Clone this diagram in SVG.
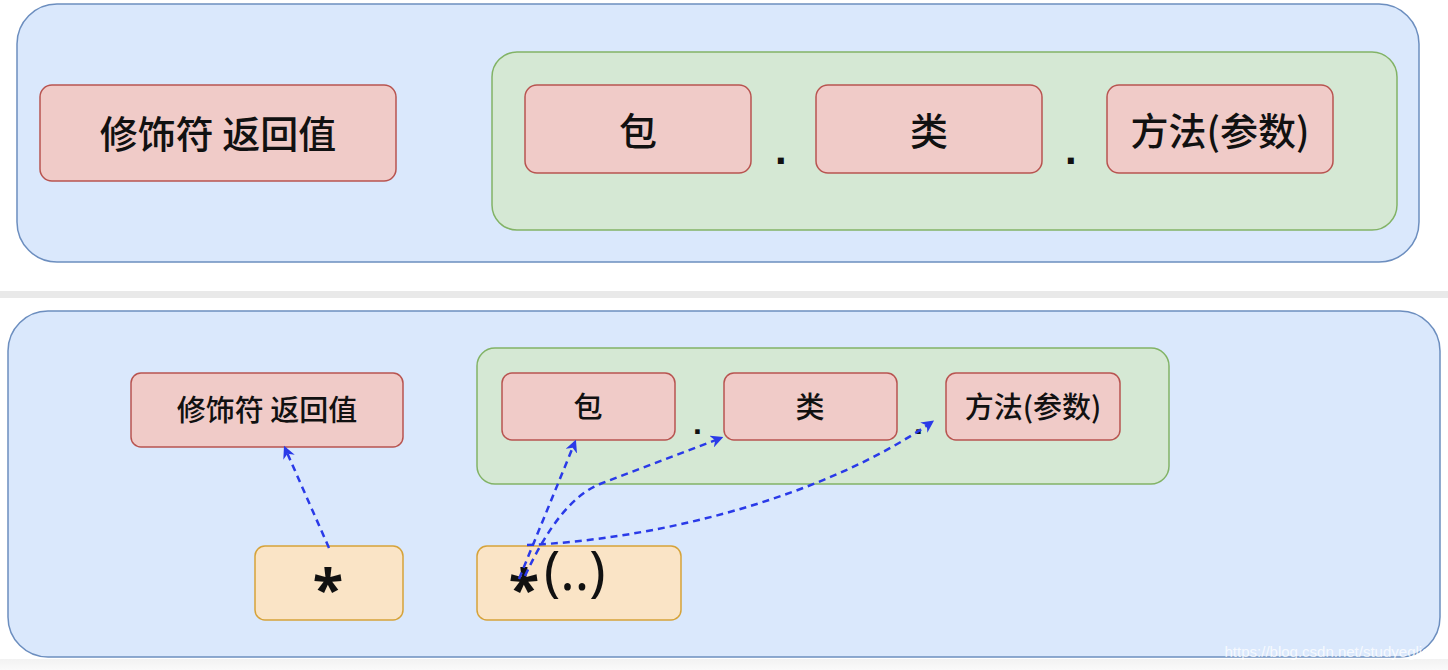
<svg xmlns="http://www.w3.org/2000/svg" width="1448" height="670" viewBox="0 0 1448 670">
<defs>
<style>
.panel{fill:#dae8fc;stroke:#6c8ebf;stroke-width:1.5}
.grp{fill:#d5e8d4;stroke:#82b366;stroke-width:1.5}
.red{fill:#f0cbc8;stroke:#b85450;stroke-width:1.5}
.yel{fill:#fae4c6;stroke:#d6a33a;stroke-width:1.5}
.t{font-family:"Noto Sans CJK SC","Noto Sans",sans-serif;font-weight:500;fill:#111;text-anchor:middle;dominant-baseline:central}
.big{font-size:38px}
.sm{font-size:29px}
.dot{font-family:"Liberation Sans",sans-serif;font-weight:bold;fill:#111}
.star{font-family:"Noto Sans",sans-serif;font-weight:bold;font-size:56px;fill:#111;text-anchor:middle}
.c{fill:none;stroke:#2a3ae8;stroke-width:2.5;stroke-dasharray:7,5;marker-end:url(#ah)}
</style>
<marker id="ah" viewBox="0 0 10 10" refX="8" refY="5" markerWidth="5" markerHeight="5" orient="auto" markerUnits="strokeWidth">
<path d="M0,0 L10,5 L0,10 L3,5 z" fill="#2a3ae8"/>
</marker>
<linearGradient id="bot" x1="0" y1="0" x2="0" y2="1">
<stop offset="0" stop-color="#f2f2f2"/><stop offset="1" stop-color="#fafafa"/>
</linearGradient>
</defs>
<rect x="0" y="0" width="1448" height="670" fill="#ffffff"/>
<rect x="0" y="291" width="1448" height="7" fill="#e9e9e9"/>
<rect x="0" y="659" width="1448" height="11" fill="url(#bot)"/>

<g id="top-panel">
<rect class="panel" x="17" y="4" width="1402" height="258" rx="40"/>
</g>
<g id="top-modifier">
<rect class="red" x="40" y="85" width="356" height="96" rx="12"/>
<text class="t big" x="218" y="131">修饰符 返回值</text>
</g>
<g id="top-group">
<rect class="grp" x="492" y="52" width="905" height="178" rx="25"/>
</g>
<g id="top-package">
<rect class="red" x="525" y="85" width="226" height="88" rx="12"/>
<text class="t big" x="638" y="128">包</text>
</g>
<text class="dot" x="775" y="164" font-size="42">.</text>
<g id="top-class">
<rect class="red" x="816" y="85" width="226" height="88" rx="12"/>
<text class="t big" x="929" y="128">类</text>
</g>
<text class="dot" x="1065" y="164" font-size="42">.</text>
<g id="top-method">
<rect class="red" x="1107" y="85" width="226" height="88" rx="12"/>
<text class="t big" x="1220" y="128">方法(参数)</text>
</g>

<g id="bottom-panel">
<rect class="panel" x="8" y="311" width="1432" height="346" rx="40"/>
</g>
<g id="bottom-modifier">
<rect class="red" x="131" y="373" width="272" height="74" rx="10"/>
<text class="t sm" x="267" y="408">修饰符 返回值</text>
</g>
<g id="bottom-group">
<rect class="grp" x="477" y="348" width="692" height="136" rx="18"/>
</g>
<g id="bottom-package">
<rect class="red" x="502" y="373" width="173" height="67" rx="10"/>
<text class="t sm" x="588" y="405">包</text>
</g>
<text class="dot" x="693" y="434" font-size="32">.</text>
<g id="bottom-class">
<rect class="red" x="724" y="373" width="173" height="67" rx="10"/>
<text class="t sm" x="810" y="405">类</text>
</g>
<text class="dot" x="914" y="434" font-size="32">.</text>
<g id="bottom-method">
<rect class="red" x="946" y="373" width="174" height="67" rx="10"/>
<text class="t sm" x="1033" y="405">方法(参数)</text>
</g>
<g id="star">
<rect class="yel" x="255" y="546" width="148" height="74" rx="10"/>
<text class="star" x="328" y="609">*</text>
</g>
<g id="star-args">
<rect class="yel" x="477" y="546" width="204" height="74" rx="10"/>
<text x="524" y="609"><tspan class="star" x="524">*</tspan><tspan x="544" y="590" font-family="'Noto Sans',sans-serif" font-size="54" fill="#111">(..)</tspan></text>
</g>

<g id="connectors">
<path class="c" d="M329,548 L285,448"/>
<path class="c" d="M519,579 L575,442"/>
<path class="c" d="M525,576 Q560,500 600,484 L721,438"/>
<path class="c" d="M527,545 C650,540 820,500 932,422"/>
</g>

<text x="1438" y="657" text-anchor="end" font-family="'Liberation Sans',sans-serif" font-size="15" fill="#ffffff" fill-opacity="0.8">https://blog.csdn.net/studyeglish</text>
</svg>
